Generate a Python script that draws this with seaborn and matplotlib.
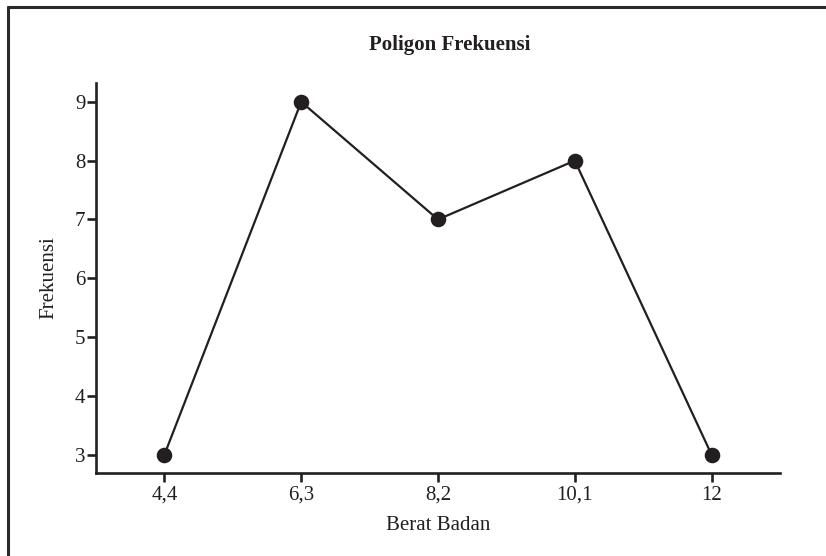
import matplotlib
matplotlib.use("Agg")
import matplotlib.pyplot as plt
from matplotlib.lines import Line2D
import seaborn as sns

# Frequency polygon: class midpoints (body weight) and their frequencies
berat_badan = ["4,4", "6,3", "8,2", "10,1", "12"]
frekuensi = [3, 9, 7, 8, 3]
y_ticks = [3, 4, 5, 6, 7, 8, 9]

sns.set_theme(style="white")
plt.rcParams["font.family"] = ["Liberation Serif", "DejaVu Serif"]

ink = "#231f20"
W, H = 826, 556
fig = plt.figure(figsize=(W / 100, H / 100), dpi=100)
ax = fig.add_axes([96 / W, (H - 473) / H, (780 - 96) / W, (473 - 83) / H])

sns.pointplot(x=berat_badan, y=frekuensi, order=berat_badan, color=ink,
              markers="o", linestyles="-", markersize=10, linewidth=1.6,
              ax=ax)

ax.set_xlim(-0.5, 4.5)
ax.set_ylim(2.69, 9.32)
ax.set_yticks(y_ticks)
ax.set_yticklabels([str(v) for v in y_ticks])

sns.despine(ax=ax)
for side in ("left", "bottom"):
    ax.spines[side].set_color(ink)
    ax.spines[side].set_linewidth(1.9)
ax.tick_params(axis="both", direction="out", length=6.5, width=1.9,
               colors=ink, labelsize=15, left=True, bottom=True)
ax.tick_params(axis="y", pad=1)
ax.tick_params(axis="x", pad=2.5)
for lbl in ax.get_xticklabels() + ax.get_yticklabels():
    lbl.set_color(ink)

ax.set_xlabel("Berat Badan", fontsize=15, color=ink, labelpad=8)
ax.set_ylabel("Frekuensi", fontsize=15, color=ink, labelpad=12)
fig.text(450 / W, 1 - 45 / H, "Poligon Frekuensi", ha="center", va="center",
         fontsize=15, fontweight="bold", color=ink)

# Frame around the figure (top and left edges)
fig.add_artist(Line2D([8 / W, 1.0], [1 - 7 / H, 1 - 7 / H],
                      transform=fig.transFigure, color="#2a2a2a", lw=2.2))
fig.add_artist(Line2D([8 / W, 8 / W], [1 - 7 / H, 0.0],
                      transform=fig.transFigure, color="#2a2a2a", lw=2.2))

fig.savefig("out.png", dpi=100)
